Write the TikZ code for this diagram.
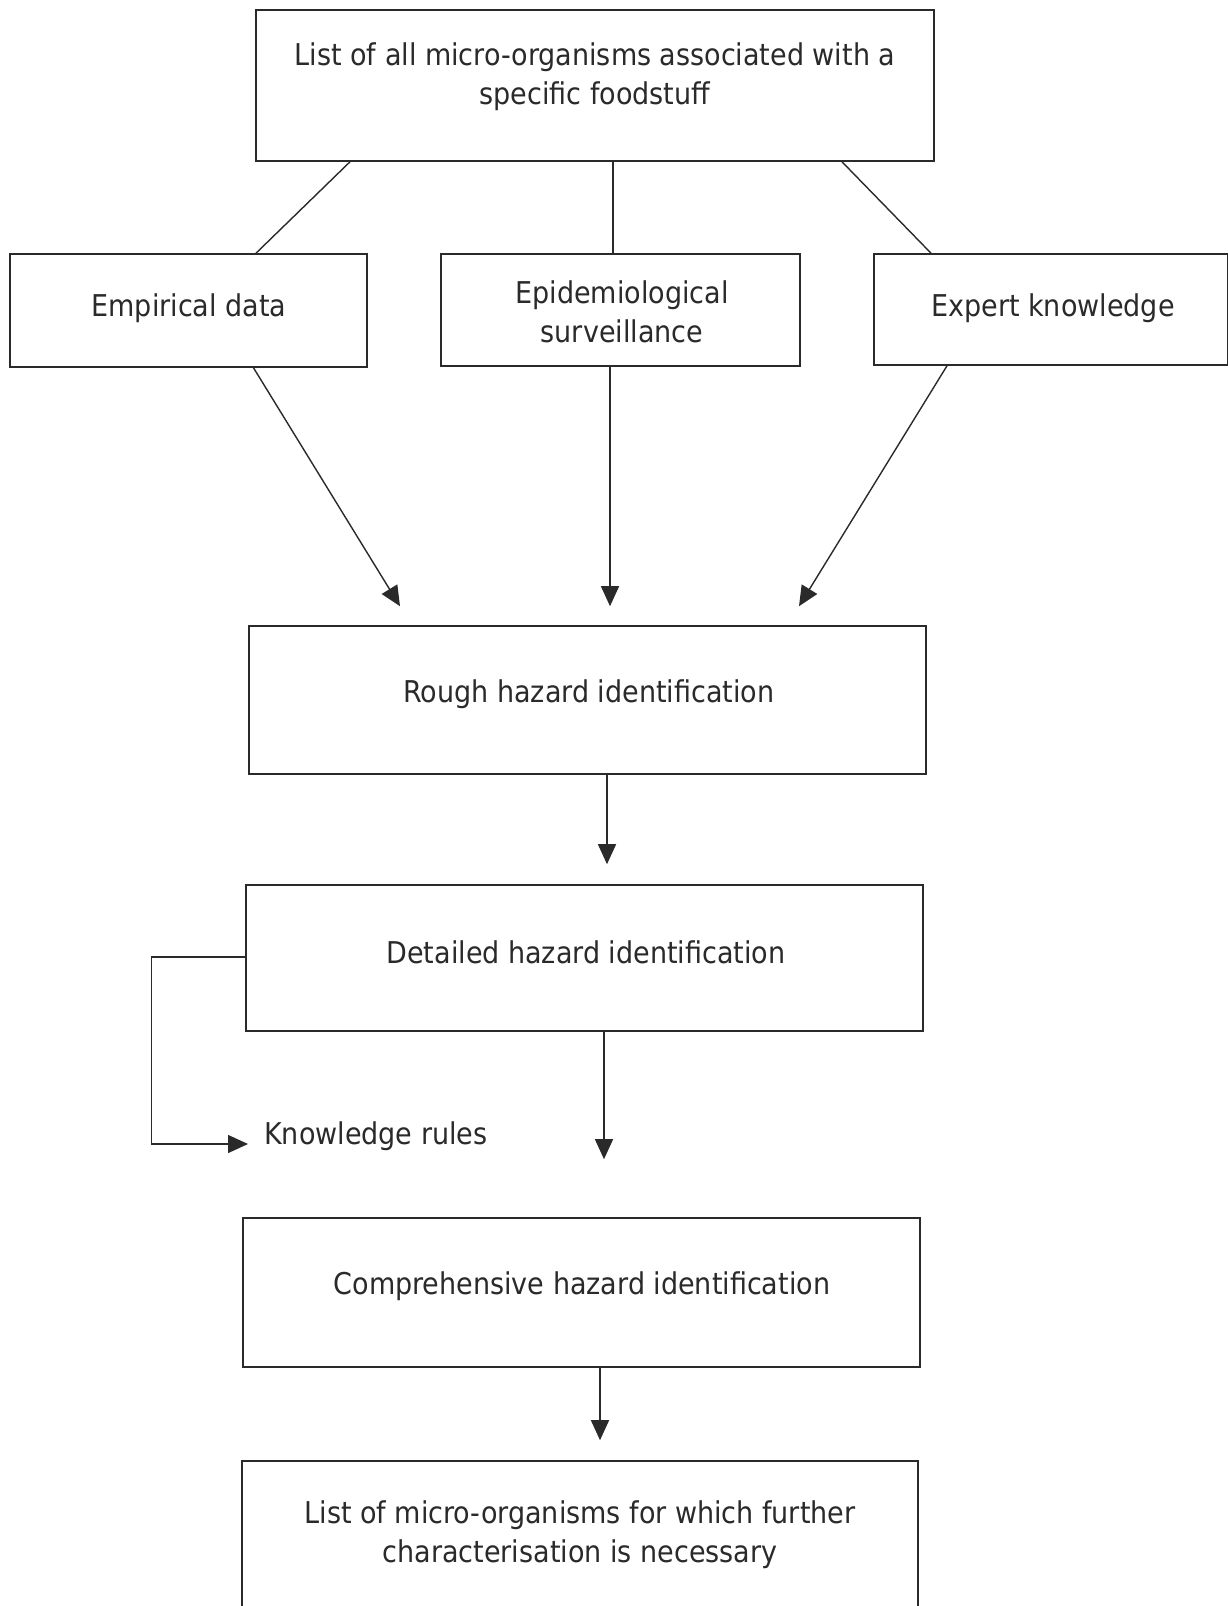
\documentclass[tikz,border=0pt]{standalone}
\usepackage{fontspec}
\setmainfont{DejaVu Sans Condensed}
\usetikzlibrary{arrows.meta}
\definecolor{ink}{HTML}{2A2A2A}
\tikzset{
  box/.style={draw=ink, line width=1.6pt, rectangle, inner sep=0pt},
  lbl/.style={text=ink, align=center, font=\fontsize{30}{39}\selectfont, inner sep=0pt},
  link/.style={draw=ink, line width=1.4pt},
  arr/.style={link, -{Triangle[length=20pt,width=18pt]}},
}
\begin{document}
\begin{tikzpicture}[x=1pt,y=-1pt]
\clip (0,0) rectangle (1228,1606);
\fill[white] (0,0) rectangle (1228,1606);

% top box and its caption
\node[box, minimum width=678pt, minimum height=151pt] (top) at (595,85.5) {};
\node[lbl] (toptxt) at (595,77) {List of all micro-organisms associated with a\\specific foodstuff};

% three information sources
\node[box, minimum width=357pt, minimum height=113pt] (emp) at (188.5,310.5) {};
\node[lbl] (emptxt) at (189,308) {Empirical data};
\node[box, minimum width=359pt, minimum height=112pt] (epi) at (620.5,310) {};
\node[lbl] (epitxt) at (622,312) {Epidemiological\\surveillance};
\node[box, minimum width=354pt, minimum height=111pt] (exp) at (1051,309.5) {};
\node[lbl] (exptxt) at (1053,308) {Expert knowledge};

% processing steps
\node[box, minimum width=677pt, minimum height=148pt] (rough) at (587.5,700) {};
\node[lbl] (roughtxt) at (589,694) {Rough hazard identification};
\node[box, minimum width=677pt, minimum height=146pt] (det) at (584.5,958) {};
\node[lbl] (dettxt) at (586,952) {Detailed hazard identification};
\node[box, minimum width=677pt, minimum height=149pt] (comp) at (581.5,1292.5) {};
\node[lbl] (comptxt) at (582,1286) {Comprehensive hazard identification};
\node[box, minimum width=676pt, minimum height=180pt] (res) at (580,1551) {};
\node[lbl] (restxt) at (580,1534.5) {List of micro-organisms for which further\\characterisation is necessary};

% knowledge rules label
\node[lbl, anchor=west] (kr) at (264,1136) {Knowledge rules};
\coordinate (krin) at (248,1144);

% connectors from the list to the sources
\draw[link] ([xshift=-245pt]top.south) -- ([xshift=67.5pt]emp.north);
\draw[link] ([xshift=18pt]top.south) -- ([xshift=-7.5pt]epi.north);
\draw[link] ([xshift=247pt]top.south) -- ([xshift=-120pt]exp.north);

% sources into the rough identification
\draw[arr] ([xshift=65pt]emp.south) -- ([xshift=-187.5pt,yshift=19pt]rough.north);
\draw[arr] ([xshift=-10.5pt]epi.south) -- ([xshift=22.5pt,yshift=19pt]rough.north);
\draw[arr] ([xshift=-104pt]exp.south) -- ([xshift=211.5pt,yshift=19pt]rough.north);

% downward chain
\draw[arr] ([xshift=19.5pt]rough.south) -- ([xshift=22.5pt,yshift=20pt]det.north);
\draw[arr] ([xshift=19.5pt]det.south) -- ([xshift=22.5pt,yshift=58pt]comp.north);
\draw[arr] ([xshift=18.5pt]comp.south) -- ([xshift=20pt,yshift=20pt]res.north);

% side loop to the knowledge rules
\draw[arr] ([yshift=1pt]det.west) -- ++(-94,0) |- (krin);
\end{tikzpicture}
\end{document}
